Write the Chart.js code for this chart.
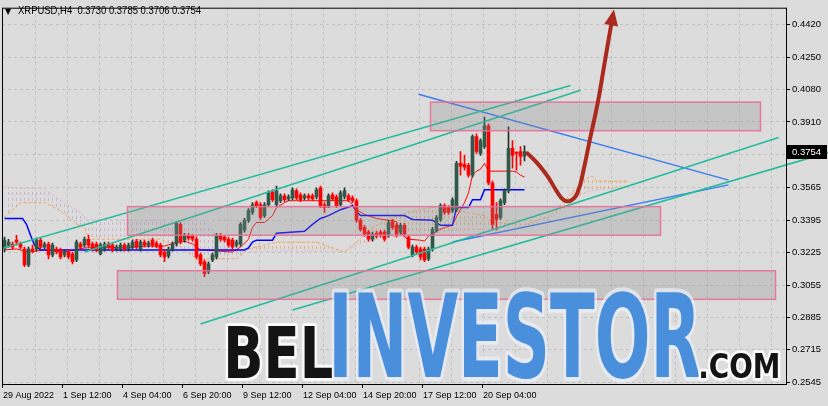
<!DOCTYPE html>
<html>
<head>
<meta charset="utf-8">
<title>XRPUSD H4</title>
<script src="https://cdn.jsdelivr.net/npm/chart.js@4.4.1/dist/chart.umd.min.js"></script>
<style>
  html, body { margin: 0; padding: 0; background: #dcdcdc; overflow: hidden; }
  canvas { display: block; }
</style>
</head>
<body>
<canvas id="chart" width="828" height="406"></canvas>
<script>
// H4 candles, bar 0 = 29 Aug 2022
const barOpen = [
  0.3244,0.3264,0.3270,0.3290,0.3270,0.3244,0.3161,0.3244,0.3244,0.3290,
  0.3254,0.3270,0.3213,0.3244,0.3239,0.3213,0.3228,0.3218,0.3187,0.3270,
  0.3264,0.3295,0.3270,0.3270,0.3218,0.3244,0.3270,0.3264,0.3244,0.3244,
  0.3264,0.3244,0.3254,0.3285,0.3244,0.3280,0.3264,0.3290,0.3275,0.3264,
  0.3228,0.3208,0.3244,0.3270,0.3373,0.3290,0.3316,0.3311,0.3295,0.3213,
  0.3177,0.3125,0.3187,0.3202,0.3316,0.3306,0.3295,0.3290,0.3264,0.3270,
  0.3342,0.3394,0.3435,0.3487,0.3476,0.3419,0.3476,0.3543,0.3476,0.3497,
  0.3523,0.3507,0.3512,0.3549,0.3528,0.3512,0.3523,0.3523,0.3518,0.3564,
  0.3476,0.3471,0.3528,0.3518,0.3476,0.3518,0.3523,0.3512,0.3497,0.3394,
  0.3357,0.3332,0.3295,0.3326,0.3332,0.3332,0.3316,0.3388,0.3368,0.3332,
  0.3368,0.3306,0.3213,0.3254,0.3244,0.3244,0.3192,0.3244,0.3342,0.3399,
  0.3471,0.3461,0.3445,0.3450,0.3693,0.3688,0.3683,0.3631,0.3833,0.3745,
  0.3781,0.3890,0.3590,0.3425,0.3409,0.3487,0.3549,0.3771,0.3750,0.3755,
  0.3730
];
const barHigh = [
  0.3306,0.3295,0.3280,0.3316,0.3280,0.3254,0.3254,0.3264,0.3301,0.3301,
  0.3280,0.3280,0.3275,0.3254,0.3249,0.3239,0.3239,0.3228,0.3290,0.3280,
  0.3306,0.3316,0.3280,0.3280,0.3275,0.3280,0.3280,0.3275,0.3264,0.3275,
  0.3275,0.3275,0.3290,0.3295,0.3290,0.3290,0.3285,0.3301,0.3285,0.3275,
  0.3239,0.3254,0.3280,0.3388,0.3383,0.3326,0.3326,0.3321,0.3306,0.3223,
  0.3187,0.3177,0.3223,0.3326,0.3326,0.3316,0.3306,0.3301,0.3290,0.3383,
  0.3404,0.3456,0.3487,0.3497,0.3487,0.3487,0.3549,0.3554,0.3574,0.3533,
  0.3533,0.3528,0.3564,0.3559,0.3538,0.3533,0.3533,0.3533,0.3564,0.3574,
  0.3487,0.3533,0.3538,0.3528,0.3549,0.3564,0.3533,0.3523,0.3507,0.3404,
  0.3368,0.3342,0.3332,0.3337,0.3342,0.3342,0.3394,0.3399,0.3378,0.3378,
  0.3378,0.3316,0.3264,0.3264,0.3254,0.3254,0.3254,0.3357,0.3419,0.3481,
  0.3481,0.3471,0.3512,0.3704,0.3755,0.3735,0.3693,0.3843,0.3848,0.3822,
  0.3936,0.3900,0.3600,0.3487,0.3507,0.3559,0.3884,0.3812,0.3755,0.3781,
  0.3785
];
const barLow = [
  0.3228,0.3254,0.3244,0.3264,0.3244,0.3151,0.3151,0.3223,0.3233,0.3244,
  0.3244,0.3192,0.3202,0.3218,0.3192,0.3202,0.3192,0.3166,0.3177,0.3244,
  0.3254,0.3254,0.3233,0.3228,0.3213,0.3233,0.3244,0.3228,0.3233,0.3233,
  0.3233,0.3233,0.3244,0.3244,0.3233,0.3254,0.3254,0.3254,0.3249,0.3202,
  0.3177,0.3197,0.3233,0.3259,0.3270,0.3280,0.3290,0.3285,0.3192,0.3156,
  0.3099,0.3115,0.3177,0.3192,0.3285,0.3280,0.3254,0.3244,0.3254,0.3259,
  0.3332,0.3383,0.3425,0.3461,0.3399,0.3409,0.3466,0.3492,0.3466,0.3487,
  0.3492,0.3497,0.3502,0.3502,0.3492,0.3502,0.3502,0.3497,0.3507,0.3461,
  0.3435,0.3461,0.3497,0.3461,0.3466,0.3507,0.3492,0.3487,0.3383,0.3337,
  0.3311,0.3285,0.3285,0.3301,0.3306,0.3285,0.3306,0.3347,0.3306,0.3321,
  0.3311,0.3244,0.3202,0.3218,0.3187,0.3177,0.3182,0.3233,0.3332,0.3388,
  0.3425,0.3425,0.3435,0.3440,0.3631,0.3657,0.3621,0.3621,0.3745,0.3735,
  0.3771,0.3580,0.3347,0.3342,0.3399,0.3476,0.3538,0.3667,0.3657,0.3683,
  0.3706
];
const barClose = [
  0.3290,0.3280,0.3254,0.3280,0.3254,0.3161,0.3244,0.3233,0.3290,0.3254,
  0.3270,0.3213,0.3264,0.3228,0.3202,0.3228,0.3202,0.3177,0.3280,0.3254,
  0.3295,0.3264,0.3244,0.3239,0.3264,0.3270,0.3254,0.3239,0.3254,0.3264,
  0.3244,0.3264,0.3280,0.3254,0.3280,0.3264,0.3275,0.3264,0.3259,0.3213,
  0.3202,0.3244,0.3270,0.3378,0.3280,0.3316,0.3301,0.3295,0.3202,0.3166,
  0.3115,0.3166,0.3213,0.3316,0.3295,0.3290,0.3264,0.3254,0.3280,0.3373,
  0.3394,0.3445,0.3476,0.3471,0.3409,0.3476,0.3538,0.3502,0.3549,0.3523,
  0.3502,0.3518,0.3554,0.3512,0.3502,0.3523,0.3512,0.3507,0.3554,0.3471,
  0.3461,0.3523,0.3507,0.3471,0.3538,0.3549,0.3502,0.3497,0.3394,0.3347,
  0.3321,0.3295,0.3321,0.3311,0.3316,0.3295,0.3383,0.3357,0.3316,0.3368,
  0.3321,0.3254,0.3254,0.3228,0.3202,0.3187,0.3244,0.3347,0.3409,0.3471,
  0.3435,0.3435,0.3502,0.3693,0.3678,0.3673,0.3631,0.3833,0.3755,0.3812,
  0.3890,0.3590,0.3373,0.3399,0.3497,0.3549,0.3771,0.3735,0.3745,0.3729,
  0.3754
];

// Ichimoku lines (bar index / price)
const tenkanBars = [0,3,6,10,15,20,25,30,35,40,43,45,47,49,57,59,61,62,63,65,67,68,70,71,86,87,88,90,93,98,99,100,101,104,105,106,108,110,112,113,114,115,116,117,118,119,120,121,127,128,129,130];
const tenkanVals = [0.3239,0.3244,0.3228,0.3239,0.3228,0.3249,0.3254,0.3249,0.3259,0.3259,0.3280,0.3285,0.3270,0.3239,0.3228,0.3254,0.3295,0.3357,0.3383,0.3383,0.3419,0.3461,0.3487,0.3497,0.3497,0.3476,0.3450,0.3425,0.3404,0.3388,0.3332,0.3306,0.3295,0.3290,0.3285,0.3311,0.3337,0.3357,0.3368,0.3414,0.3450,0.3487,0.3538,0.3631,0.3652,0.3662,0.3693,0.3652,0.3652,0.3647,0.3631,0.3621];
const kijunBars = [0,4.5,5.5,6.5,7.5,9,60,61,62,63,67,68,75,77,79,81,84,87,88,89,100,102,107,109,112,113,116,117,119,120,130];
const kijunVals = [0.3404,0.3404,0.3373,0.3316,0.3264,0.3239,0.3239,0.3249,0.3280,0.3290,0.3290,0.3326,0.3337,0.3373,0.3404,0.3419,0.3450,0.3471,0.3440,0.3419,0.3419,0.3399,0.3394,0.3368,0.3368,0.3461,0.3461,0.3502,0.3502,0.3554,0.3554];
const senkouABars = [0,4,10,14,18,20,21,39,44,48,58,61,68,78,85,88,92,96,100,104,108,112,116,120,122,130,136,140,143,145,147,148,156];
const senkouAVals = [0.3409,0.3487,0.3487,0.3445,0.3373,0.3363,0.3295,0.3295,0.3254,0.3192,0.3192,0.3244,0.3280,0.3280,0.3228,0.3280,0.3357,0.3399,0.3430,0.3450,0.3466,0.3456,0.3435,0.3419,0.3383,0.3373,0.3414,0.3497,0.3564,0.3611,0.3626,0.3600,0.3600];
const senkouBBars = [0,10,13,18,21,35,50,56,85,90,96,104,112,120,130,136,140,143,146,156];
const senkouBVals = [0.3569,0.3559,0.3512,0.3450,0.3399,0.3394,0.3394,0.3233,0.3233,0.3280,0.3306,0.3316,0.3342,0.3347,0.3363,0.3404,0.3461,0.3512,0.3549,0.3569];

// hand drawn objects
const greenLineA = [[-1, 0.3244], [141.5, 0.4101]];
const greenLineB = [[20, 0.3228], [144, 0.4076]];
const greenLineC = [[49, 0.2851], [193.5, 0.3828]];
const greenLineD = [[72, 0.2924], [206, 0.3750]];
const blueLineA = [[103.5, 0.4055], [181, 0.3605]];
const blueLineB = [[112, 0.3280], [181, 0.3580]];
const boxFromBar = [106.5, 30.75, 28.25];
const boxToBar = [189, 164, 192.75];
const boxTop = [0.4014, 0.3466, 0.3130];
const boxBottom = [0.3864, 0.3316, 0.2980];
const arrowBars = [130.75,133.25,135.75,138,139.75,141.5,143.25,144.75,146.5,148.25,149.75,151,151.75];
const arrowVals = [0.3745,0.3693,0.3626,0.3549,0.3502,0.3497,0.3538,0.3657,0.3833,0.4003,0.4184,0.4339,0.4427];

// axes
const priceTicks = [0.2545,0.2715,0.2885,0.3055,0.3225,0.3395,0.3565,0.3738,0.3910,0.4080,0.4250,0.4420];
const timeTickBars = [0,15,30,45,60,75,90,105,120];
const timeLabels = ["29 Aug 2022","1 Sep 12:00","4 Sep 04:00","6 Sep 20:00","9 Sep 12:00","12 Sep 04:00","14 Sep 20:00","17 Sep 12:00","20 Sep 04:00"];

const FONT = '"Liberation Sans", Arial, sans-serif';
const last = barClose.length - 1;

function hatch(color) {
  const c = document.createElement('canvas');
  c.width = 4; c.height = 6;
  const g = c.getContext('2d');
  g.fillStyle = color;
  g.fillRect(0, 0, 1, 3);
  return g.createPattern(c, 'repeat');
}

const pts = (bars, vals) => bars.map((b, i) => ({ x: b, y: vals[i] }));
const isBull = i => barClose[i] >= barOpen[i];
const idx = barOpen.map((_, i) => i);

function candleSet(up, body) {
  return {
    type: 'bar',
    data: idx.filter(i => isBull(i) === up).map(i => ({
      x: i, y: body ? [barOpen[i], barClose[i]] : [barLow[i], barHigh[i]]
    })),
    backgroundColor: up ? (body ? '#2f5a49' : '#22322b') : '#ff0000',
    barThickness: body ? 3 : 1,
    minBarLength: 1,
    grouped: false,
    order: body ? 6 : 7
  };
}

function straight(line, color, width, clip) {
  return {
    type: 'line',
    data: line.map(p => ({ x: p[0], y: p[1] })),
    borderColor: color, borderWidth: width,
    pointRadius: 0, order: 5, clip: clip
  };
}

const datasets = [
  {
    type: 'line', data: pts(senkouABars, senkouAVals),
    borderColor: '#f4a460', borderWidth: 1, borderDash: [3, 2], pointRadius: 0,
    fill: { target: 1, above: hatch('rgba(244,164,96,0.8)'), below: hatch('rgba(200,170,200,0.8)') },
    order: 9
  },
  {
    type: 'line', data: pts(senkouBBars, senkouBVals),
    borderColor: '#d8bfd8', borderWidth: 1, borderDash: [3, 2], pointRadius: 0, order: 9
  },
  { type: 'line', data: pts(kijunBars, kijunVals), borderColor: '#0000ff', borderWidth: 1.5, pointRadius: 0, order: 8 },
  { type: 'line', data: pts(tenkanBars, tenkanVals), borderColor: '#ff0000', borderWidth: 1, pointRadius: 0, order: 8 },
  candleSet(true, false), candleSet(false, false),
  candleSet(true, true), candleSet(false, true),
  straight(greenLineA, '#22bb9c', 1.5), straight(greenLineB, '#22bb9c', 1.5),
  straight(greenLineC, '#22bb9c', 1.5), straight(greenLineD, '#22bb9c', 1.5, false),
  straight(blueLineA, '#3b7df0', 1.5), straight(blueLineB, '#3b7df0', 1.5),
  {
    type: 'line', data: pts(arrowBars, arrowVals),
    borderColor: '#aa2a1e', borderWidth: 4, tension: 0.45, pointRadius: 0,
    borderCapStyle: 'round', order: 1, clip: false
  }
];
const ARROW = datasets.length - 1;

function fitted(ctx, text, left, right, top, bottom, fill, stroke) {
  ctx.save();
  ctx.font = 'bold 100px "DejaVu Sans Condensed", "DejaVu Sans", sans-serif';
  const m = ctx.measureText(text);
  const w = m.actualBoundingBoxLeft + m.actualBoundingBoxRight;
  const h = m.actualBoundingBoxAscent + m.actualBoundingBoxDescent;
  const sx = (right - left) / w, sy = (bottom - top) / h;
  ctx.translate(left, bottom);
  ctx.scale(sx, sy);
  ctx.translate(m.actualBoundingBoxLeft, -m.actualBoundingBoxDescent);
  if (stroke) {
    ctx.lineJoin = 'round';
    ctx.strokeStyle = stroke;
    ctx.lineWidth = 5 / Math.min(sx, sy);
    ctx.strokeText(text, 0, 0);
  }
  ctx.fillStyle = fill;
  ctx.fillText(text, 0, 0);
  ctx.restore();
}

const overlay = {
  id: 'overlay',
  beforeDatasetDraw(chart, args) {
    if (args.index !== ARROW) return;
    const { ctx, chartArea: a, scales: { x, y } } = chart;
    ctx.save();
    ctx.beginPath();
    ctx.rect(a.left, a.top, a.right - a.left, a.bottom - a.top);
    ctx.clip();
    boxFromBar.forEach((b, i) => {
      const x0 = x.getPixelForValue(b), x1 = x.getPixelForValue(boxToBar[i]);
      const y0 = y.getPixelForValue(boxTop[i]), y1 = y.getPixelForValue(boxBottom[i]);
      ctx.fillStyle = 'rgba(140,140,140,0.28)';
      ctx.fillRect(x0, y0, x1 - x0, y1 - y0);
      ctx.strokeStyle = 'rgba(232,112,150,0.9)';
      ctx.lineWidth = 1.5;
      ctx.strokeRect(x0, y0, x1 - x0, y1 - y0);
    });
    ctx.restore();
  },
  afterDatasetsDraw(chart) {
    const { ctx, chartArea: a } = chart;
    // arrow head
    const pts = chart.getDatasetMeta(ARROW).data;
    const p1 = pts[pts.length - 2], p2 = pts[pts.length - 1];
    const ang = Math.atan2(p2.y - p1.y, p2.x - p1.x);
    ctx.save();
    ctx.translate(p2.x, p2.y);
    ctx.rotate(ang);
    ctx.fillStyle = '#aa2a1e';
    ctx.beginPath();
    ctx.moveTo(14, 0);
    ctx.lineTo(-2, -7);
    ctx.lineTo(-2, 7);
    ctx.closePath();
    ctx.fill();
    ctx.restore();
    // frame
    ctx.save();
    ctx.strokeStyle = '#000';
    ctx.lineWidth = 1;
    ctx.strokeRect(a.left + 0.5, a.top + 0.5, a.right - a.left, a.bottom - a.top);
    ctx.restore();
    // watermark
    fitted(ctx, 'BEL', 228, 332, 326, 378, '#141414', 'rgba(255,255,255,0.85)');
    fitted(ctx, 'INVESTOR', 334, 700, 290, 378, '#4a8fdc', 'rgba(235,240,250,0.7)');
    fitted(ctx, '.COM', 701, 778, 352, 378, '#141414', 'rgba(255,255,255,0.85)');
  },
  afterDraw(chart) {
    const { ctx, scales: { y } } = chart;
    ctx.save();
    ctx.fillStyle = '#000';
    ctx.textBaseline = 'alphabetic';
    ctx.font = '8px "DejaVu Sans", sans-serif';
    ctx.fillText('\u25BC', 5, 14);
    // MT4 header text is narrow: squeeze it horizontally
    ctx.save();
    ctx.translate(18, 14);
    ctx.scale(0.86, 1);
    ctx.font = '11px ' + FONT;
    ctx.fillText('XRPUSD,H4  ' + [barOpen[last], barHigh[last], barLow[last], barClose[last]].map(v => v.toFixed(4)).join(' '), 0, 0);
    ctx.restore();
    // current price tag
    const py = Math.round(y.getPixelForValue(barClose[last]));
    ctx.fillStyle = '#000';
    ctx.fillRect(787, py - 7, 40, 14);
    ctx.fillStyle = '#fff';
    ctx.textBaseline = 'middle';
    ctx.font = '9.5px ' + FONT;
    ctx.fillText(barClose[last].toFixed(4), 792, py + 0.5);
    ctx.restore();
  }
};

const xMin = -0.625, xMax = 195.375;
const gridBars = [];
for (let b = 7.75; b < xMax; b += 8) gridBars.push(b);

new Chart(document.getElementById('chart'), {
  type: 'bar',
  data: { datasets },
  options: {
    responsive: false,
    animation: false,
    devicePixelRatio: 1,
    layout: { padding: { left: 2, top: 2, right: 0, bottom: 0 } },
    plugins: { legend: { display: false }, tooltip: { enabled: false } },
    scales: {
      x: {
        type: 'linear', min: xMin, max: xMax, weight: 0, offset: false,
        afterBuildTicks: s => { s.ticks = timeTickBars.map(v => ({ value: v - 0.4 })); },
        afterFit: s => { s.height = 22; },
        ticks: {
          callback: (v, i) => timeLabels[i], align: 'start', autoSkip: false,
          maxRotation: 0, padding: 2, color: '#000', font: { family: FONT, size: 9 }
        },
        grid: { offset: false, drawOnChartArea: false, tickLength: 4, tickColor: '#000', tickWidth: 1 },
        border: { display: false }
      },
      xg: {
        type: 'linear', position: 'bottom', min: xMin, max: xMax, weight: 1, offset: false,
        afterBuildTicks: s => { s.ticks = gridBars.map(v => ({ value: v })); },
        afterFit: s => { s.height = 0; },
        ticks: { display: false },
        grid: { offset: false, drawTicks: false, color: '#c2c2c2', lineWidth: 1 },
        border: { display: false, dash: [3, 3] }
      },
      y: {
        position: 'right', min: 0.2536, max: 0.4509,
        afterBuildTicks: s => { s.ticks = priceTicks.map(v => ({ value: v })); },
        afterFit: s => { s.width = 42; },
        ticks: {
          callback: v => v.toFixed(4), autoSkip: false, padding: 2,
          color: '#000', font: { family: FONT, size: 9.5 }
        },
        grid: { color: '#c2c2c2', lineWidth: 1, tickLength: 4, tickColor: '#000', tickWidth: 1 },
        border: { display: false, dash: [3, 3] }
      }
    }
  },
  plugins: [overlay]
});
</script>
</body>
</html>
